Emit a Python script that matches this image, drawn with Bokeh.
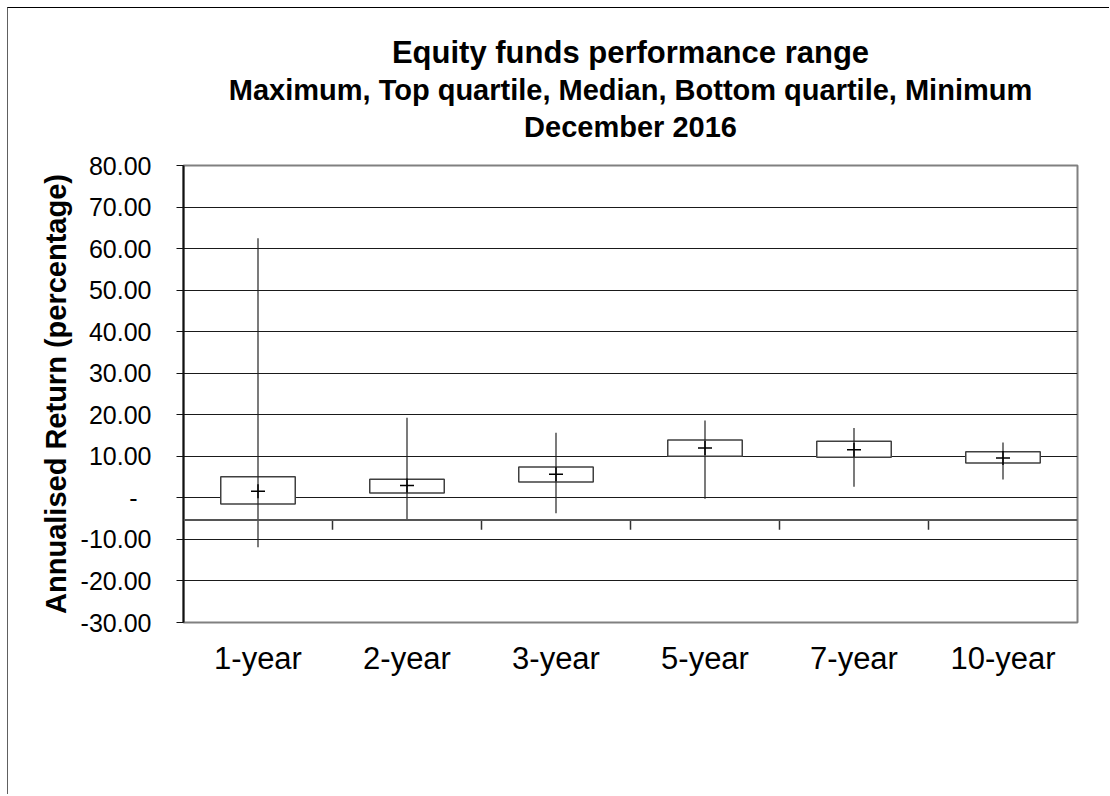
from bokeh.plotting import figure
from bokeh.models import Range1d, FixedTicker, Span, Title
from bokeh.embed import file_html
from bokeh.resources import INLINE

# ---- data ----
categories = ["1-year", "2-year", "3-year", "5-year", "7-year", "10-year"]
maximum = [62.5, 19.3, 15.7, 18.6, 16.8, 13.3]
top_quartile = [5.1, 4.5, 7.4, 13.9, 13.6, 11.1]
median = [1.6, 3.0, 5.7, 12.0, 11.6, 9.6]
bottom_quartile = [-1.5, 1.2, 3.8, 10.0, 9.8, 8.4]
minimum = [-11.9, -5.4, -3.7, -0.2, 2.7, 4.4]

ytick_values = [80, 70, 60, 50, 40, 30, 20, 10, 0, -10, -20, -30]
ytick_labels = ["80.00", "70.00", "60.00", "50.00", "40.00", "30.00", "20.00",
                "10.00", "-\u2007", "-10.00", "-20.00", "-30.00"]
category_axis_crossing = -5.3

title_lines = ["Equity funds performance range",
               "Maximum, Top quartile, Median, Bottom quartile, Minimum",
               "December 2016"]
title_sizes = ["31px", "29px", "29px"]
title_standoffs = [0, 5, 0]
y_title = "Annualised Return (percentage)"

FONT = "Liberation Sans"

xs = [i + 0.5 for i in range(len(categories))]
bounds = [float(i) for i in range(1, len(categories))]

p = figure(width=1102, height=787,
           x_range=Range1d(0, len(categories)), y_range=Range1d(-30, 80),
           output_backend="svg", toolbar_location=None,
           min_border_left=175, min_border_right=33,
           min_border_top=157, min_border_bottom=173)
p.styles = {"margin-left": "7px", "margin-top": "7px",
            "border-top": "1px solid #000000", "border-left": "1px solid #606060"}
p.background_fill_color = "white"
p.border_fill_color = "white"
p.outline_line_color = "#808080"
p.outline_line_width = 2

# spacer between the title block and the plot area
p.add_layout(Title(text="\u00a0", text_font=FONT, text_font_size="1px",
                   standoff=20), "above")
# titles (last line closest to the plot)
for txt, fs, so in reversed(list(zip(title_lines, title_sizes, title_standoffs))):
    p.add_layout(Title(text=txt, align="center", text_font=FONT,
                       text_font_size=fs, text_font_style="bold",
                       text_color="black", standoff=so), "above")

# grid
p.xgrid.visible = False
p.ygrid.ticker = FixedTicker(ticks=ytick_values)
p.ygrid.grid_line_color = "#1a1a1a"
p.ygrid.grid_line_width = 1

# y axis
ya = p.yaxis[0]
ya.ticker = FixedTicker(ticks=ytick_values)
ya.major_label_overrides = dict(zip(ytick_values, ytick_labels))
ya.major_tick_out = 7
ya.major_tick_in = 0
ya.minor_tick_out = 0
ya.minor_tick_in = 0
ya.axis_line_color = "#111111"
ya.axis_line_width = 2
ya.major_tick_line_color = "#111111"
ya.major_label_standoff = 25
ya.major_label_text_font = FONT
ya.major_label_text_font_size = "25px"
ya.major_label_text_color = "black"
ya.axis_label = y_title
ya.axis_label_text_font = FONT
ya.axis_label_text_font_size = "29px"
ya.axis_label_text_font_style = "bold"
ya.axis_label_text_color = "black"
ya.axis_label_standoff = 6

# x axis
xa = p.xaxis[0]
xa.ticker = FixedTicker(ticks=xs)
xa.major_label_overrides = dict(zip(xs, categories))
xa.major_tick_out = 0
xa.major_tick_in = 0
xa.minor_tick_out = 0
xa.minor_tick_in = 0
xa.axis_line_color = None
xa.major_label_standoff = 18
xa.major_label_text_font = FONT
xa.major_label_text_font_size = "31px"
xa.major_label_text_color = "black"

# category axis line crossing the value axis
p.add_layout(Span(location=category_axis_crossing, dimension="width",
                  line_color="#555555", line_width=2))
p.segment(x0=bounds, y0=[category_axis_crossing] * len(bounds),
          x1=bounds, y1=[category_axis_crossing - 2.4] * len(bounds),
          line_color="#333333", line_width=1.5)

# boxes (quartiles)
p.vbar(x=xs, width=0.5, top=top_quartile, bottom=bottom_quartile,
       fill_color="white", line_color="#404040", line_width=1.5)
# whiskers (min to max)
p.segment(x0=xs, y0=minimum, x1=xs, y1=maximum, line_color="#222222", line_width=1.2)
# median markers
p.scatter(x=xs, y=median, marker="cross", size=14, line_color="black", line_width=1.5)

open("out.html", "w").write(file_html(p, INLINE, title="Equity funds performance range"))
